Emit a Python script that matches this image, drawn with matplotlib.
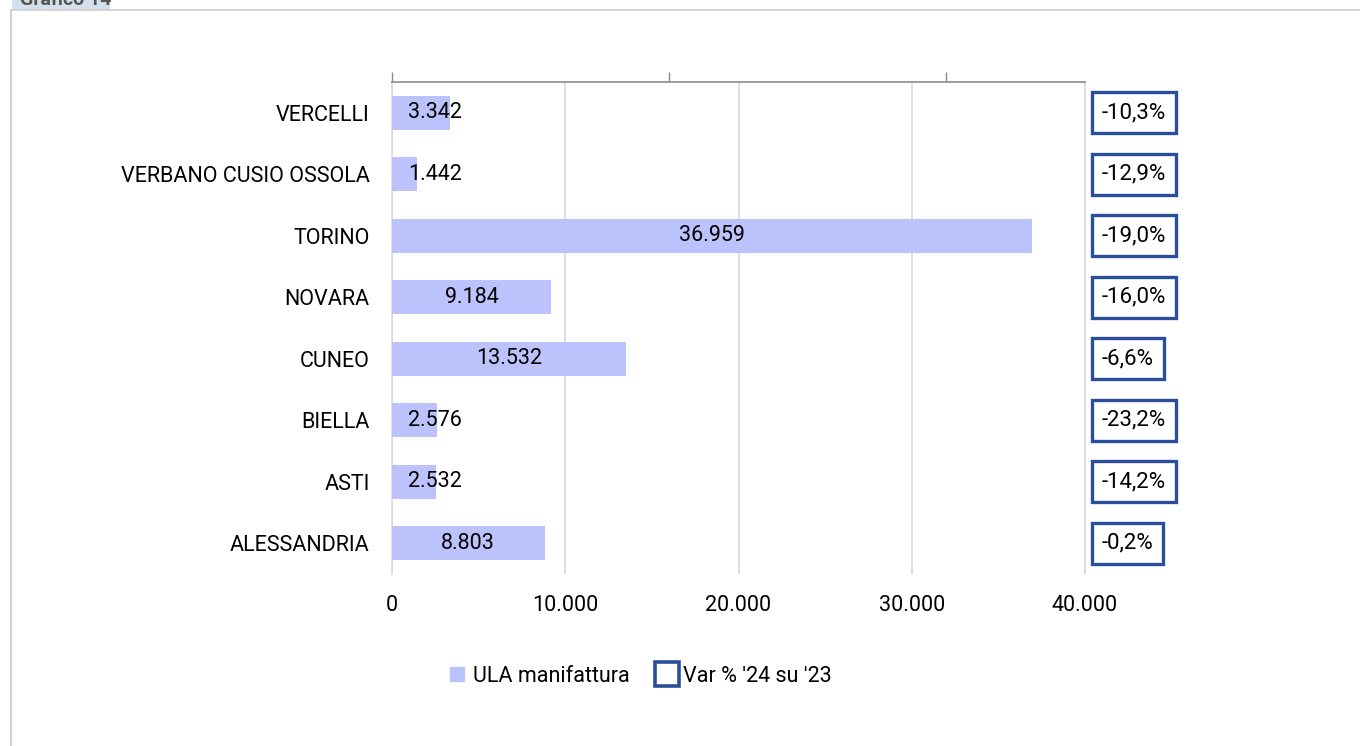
import matplotlib
matplotlib.use("Agg")
import matplotlib.pyplot as plt
from matplotlib.lines import Line2D
from matplotlib.patches import Rectangle
import matplotlib.transforms as mtransforms

plt.rcParams['font.family'] = ['Roboto', 'DejaVu Sans']

# data (top to bottom as in the chart)
province = ["VERCELLI", "VERBANO CUSIO OSSOLA", "TORINO", "NOVARA",
            "CUNEO", "BIELLA", "ASTI", "ALESSANDRIA"]
ula = [3342, 1442, 36959, 9184, 13532, 2576, 2532, 8803]
var_pct = [-10.3, -12.9, -19.0, -16.0, -6.6, -23.2, -14.2, -0.2]
xticks = [0, 10000, 20000, 30000, 40000]

bar_col = "#BCC3FC"
box_col = "#2B4E9A"
grid_col = "#D9D9D9"
fs = 15.5


def fmt_thousands(v):
    return f"{v:,}".replace(",", ".")


def fmt_pct(p):
    return f"{p:.1f}%".replace(".", ",")


fig = plt.figure(figsize=(13.6, 7.46), dpi=100)

# outer frame + tab
fig.add_artist(Line2D([11/1360, 1], [1 - 10/746, 1 - 10/746], color="#D0D0D0", lw=1.2))
fig.add_artist(Line2D([11/1360, 11/1360], [0, 1 - 10/746], color="#D0D0D0", lw=1.5))
fig.add_artist(Rectangle((12/1360, 1 - 10/746), 98/1360, 10/746, color="#D3E1EF", lw=0))
fig.text(20/1360, 1 - 5/746, "Grafico 14", fontsize=14, color="#555555",
         va="baseline", ha="left", fontweight="bold")

ax = fig.add_axes([392/1360, 1 - 574/746, 693/1360, 492/746])
y = list(range(len(province)))
ax.barh(y, ula, height=0.55, color=bar_col, zorder=3)
ax.set_ylim(len(province) - 0.5, -0.5)
ax.set_xlim(0, 40000)

ax.set_yticks(y)
ax.set_yticklabels(province, fontsize=fs)
ax.set_xticks(xticks)
ax.set_xticklabels([fmt_thousands(t) for t in xticks], fontsize=fs)
ax.tick_params(axis="y", length=0, pad=16)
ax.tick_params(axis="x", length=0, pad=15)
ax.grid(axis="x", color=grid_col, lw=1.2, zorder=0)

for s in ["bottom", "right", "top"]:
    ax.spines[s].set_visible(False)
ax.spines["left"].set_color(grid_col)
ax.spines["left"].set_linewidth(1.2)

# value labels
for yi, v in zip(y, ula):
    ax.text(max(v / 2, 2500), yi, fmt_thousands(v), ha="center", va="center",
            fontsize=fs, zorder=4)

# percentage boxes right of the plot
trans = mtransforms.blended_transform_factory(ax.transAxes, ax.transData)
for yi, p in zip(y, var_pct):
    ax.text(1.024, yi, fmt_pct(p), transform=trans, ha="left", va="center",
            fontsize=16, clip_on=False,
            bbox=dict(boxstyle="square,pad=0.45", fc="white", ec=box_col, lw=2.4))

# secondary (top) axis with ticks only
ax2 = ax.twiny()
ax2.set_xlim(0, 1)
ax2.set_xticks([0, 0.4, 0.8])
ax2.set_xticklabels([])
ax2.tick_params(axis="x", direction="out", length=7, color="#8C8C8C", width=1)
for s in ["bottom", "left", "right"]:
    ax2.spines[s].set_visible(False)
ax2.spines["top"].set_color("#8C8C8C")
ax2.spines["top"].set_linewidth(1.2)
ax.plot([1, 1], [0, 1], transform=ax.transAxes, color=grid_col, lw=1.2, clip_on=False)

handles = [
    Line2D([], [], marker="s", linestyle="none", markersize=10,
           markerfacecolor=bar_col, markeredgecolor=bar_col),
    Line2D([], [], marker="s", linestyle="none", markersize=17,
           markerfacecolor="white", markeredgecolor=box_col, markeredgewidth=2.6),
]
fig.legend(handles, ["ULA manifattura", "Var % '24 su '23"], loc="center",
           bbox_to_anchor=(639/1360, 1 - 676/746), ncol=2, frameon=False,
           fontsize=fs, handlelength=1.0, handletextpad=0.25, columnspacing=1.2)

fig.savefig("out.png", dpi=100)
